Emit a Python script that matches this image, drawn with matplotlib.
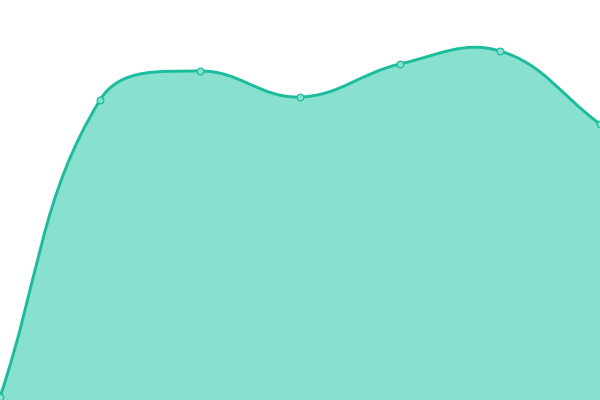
import numpy as np
from matplotlib import pyplot as plt
from matplotlib.path import Path
from matplotlib.patches import PathPatch

# data
x_values = [0, 1, 2, 3, 4, 5, 6]
y_values = [3, 300, 329, 303, 336, 349, 276]

LINE_COLOR = '#1abc9c'
FILL_COLOR = '#88e0cf'
TENSION = 0.4


def smooth_path(ax, xs, ys, tension):
    # chart.js style spline, control points worked out in pixel space
    trans = ax.transData
    pts = trans.transform(np.column_stack([xs, ys]).astype(float))
    n = len(pts)
    prev_cp = []
    next_cp = []
    for i in range(n):
        p0 = pts[max(i - 1, 0)]
        p1 = pts[i]
        p2 = pts[min(i + 1, n - 1)]
        d01 = np.hypot(*(p1 - p0))
        d12 = np.hypot(*(p2 - p1))
        tot = d01 + d12
        s01 = d01 / tot if tot else 0
        s12 = d12 / tot if tot else 0
        prev_cp.append(p1 - tension * s01 * (p2 - p0))
        next_cp.append(p1 + tension * s12 * (p2 - p0))
    verts = [pts[0]]
    codes = [Path.MOVETO]
    for i in range(n - 1):
        verts += [next_cp[i], prev_cp[i + 1], pts[i + 1]]
        codes += [Path.CURVE4] * 3
    verts = trans.inverted().transform(np.array(verts))
    return list(verts), codes


fig = plt.figure(figsize=(6, 4), dpi=100)
ax = fig.add_axes([0, 0, 1, 1])
ax.set_xlim(0, 6)
ax.set_ylim(0, 400)
ax.axis('off')

verts, codes = smooth_path(ax, x_values, y_values, TENSION)
area_verts = verts + [(x_values[-1], 0), (x_values[0], 0), verts[0]]
area_codes = codes + [Path.LINETO, Path.LINETO, Path.CLOSEPOLY]
ax.add_patch(PathPatch(Path(area_verts, area_codes), facecolor=FILL_COLOR, edgecolor='none'))
ax.add_patch(PathPatch(Path(verts, codes), facecolor='none', edgecolor=LINE_COLOR, lw=2.1))

ax.plot(x_values, y_values, 'o', ms=4.8, mfc=FILL_COLOR, mec=LINE_COLOR, mew=0.9, clip_on=True)

fig.savefig('out.png', dpi=100)
